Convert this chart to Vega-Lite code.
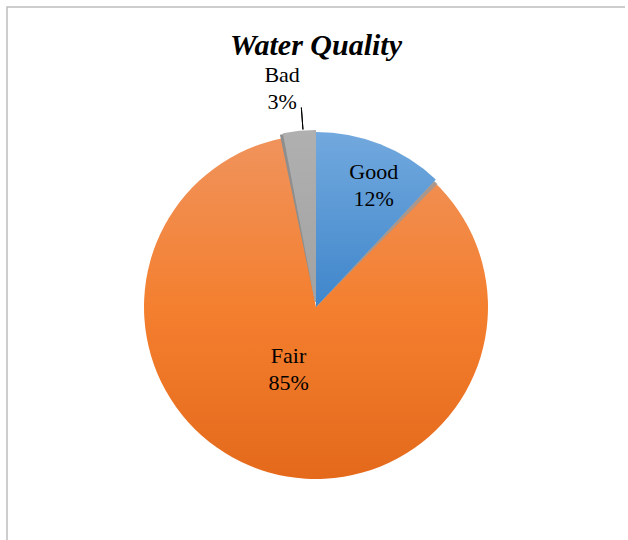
{
  "$schema": "https://vega.github.io/schema/vega-lite/v6.json",
  "autosize": "none",
  "width": 618,
  "height": 600,
  "padding": {"left": 7, "top": 7, "right": 0, "bottom": 0},
  "background": "white",
  "config": {
    "font": "Liberation Serif"
  },
  "view": {"stroke": "#bdbdbd", "strokeWidth": 1.5, "strokeDash": [618, 1218, 602]},
  "title": {
    "text": "Water Quality",
    "font": "Liberation Serif",
    "fontSize": 30,
    "fontWeight": "bold",
    "fontStyle": "italic",
    "color": "black",
    "anchor": "middle",
    "offset": -54
  },
  "data": {
    "values": [
      {"cat": "Good", "value": 12},
      {"cat": "Fair", "value": 85},
      {"cat": "Bad", "value": 3}
    ]
  },
  "transform": [
    {"stack": "value", "groupby": [], "sort": [{"field": "cat", "order": "descending"}], "as": ["v0", "v1"]},
    {"calculate": "datum.cat + '\\n' + datum.value + '%'", "as": "label"}
  ],
  "layer": [
    {
      "transform": [{"filter": "datum.cat === 'Fair'"}],
      "mark": {
        "type": "arc", "radius": 172,
        "fill": {"gradient": "linear", "x1": 0, "y1": 0, "x2": 0, "y2": 1,
          "stops": [{"offset": 0, "color": "#f0935c"}, {"offset": 0.5, "color": "#f47f2f"}, {"offset": 1, "color": "#e4691b"}]}
      },
      "encoding": {
        "theta": {"field": "v0", "type": "quantitative", "scale": {"domain": [0, 100]}},
        "theta2": {"field": "v1"}
      }
    },
    {
      "transform": [{"filter": "datum.cat === 'Good'"}],
      "mark": {"type": "arc", "radius": 173, "thetaOffset": 0.02, "theta2Offset": 0.025, "fill": "#9a9a9a", "opacity": 0.8},
      "encoding": {
        "theta": {"field": "v0", "type": "quantitative"},
        "theta2": {"field": "v1"}
      }
    },
    {
      "transform": [{"filter": "datum.cat === 'Good'"}],
      "mark": {
        "type": "arc", "radius": 175,
        "fill": {"gradient": "linear", "x1": 0, "y1": 0, "x2": 0, "y2": 1,
          "stops": [{"offset": 0, "color": "#72a9de"}, {"offset": 1, "color": "#3f86cb"}]}
      },
      "encoding": {
        "theta": {"field": "v0", "type": "quantitative"},
        "theta2": {"field": "v1"}
      }
    },
    {
      "transform": [{"filter": "datum.cat === 'Bad'"}],
      "mark": {"type": "arc", "radius": 176, "radius2": 5, "thetaOffset": -0.018, "theta2Offset": -0.012, "fill": "#8e8e8e"},
      "encoding": {
        "theta": {"field": "v0", "type": "quantitative"},
        "theta2": {"field": "v1"}
      }
    },
    {
      "transform": [{"filter": "datum.cat === 'Bad'"}],
      "mark": {
        "type": "arc", "radius": 177, "radius2": 5,
        "fill": {"gradient": "linear", "x1": 0, "y1": 0, "x2": 0, "y2": 1,
          "stops": [{"offset": 0, "color": "#b0b0b0"}, {"offset": 1, "color": "#a2a2a2"}]}
      },
      "encoding": {
        "theta": {"field": "v0", "type": "quantitative"},
        "theta2": {"field": "v1"}
      }
    },
    {
      "transform": [{"filter": "datum.cat === 'Bad'"}],
      "mark": {"type": "arc", "radius": 200, "radius2": 178, "thetaOffset": 0.1152, "theta2Offset": -0.0733, "fill": null, "stroke": "black", "strokeWidth": 1},
      "encoding": {
        "theta": {"field": "v0", "type": "quantitative"},
        "theta2": {"field": "v1"}
      }
    },
    {
      "mark": {"type": "text", "radius": 135, "dx": 8, "dy": -9, "fontSize": 22, "lineHeight": 27, "lineBreak": "\n", "font": "Liberation Serif", "color": "black"},
      "encoding": {
        "theta": {"field": "value", "type": "quantitative", "stack": true},
        "order": {"field": "v0", "type": "quantitative"},
        "text": {"condition": {"test": "datum.cat === 'Good'", "field": "label"}, "value": ""}
      }
    },
    {
      "mark": {"type": "text", "radius": 66, "dx": -9, "dy": -14, "fontSize": 22, "lineHeight": 27, "lineBreak": "\n", "font": "Liberation Serif", "color": "black"},
      "encoding": {
        "theta": {"field": "value", "type": "quantitative", "stack": true},
        "order": {"field": "v0", "type": "quantitative"},
        "text": {"condition": {"test": "datum.cat === 'Fair'", "field": "label"}, "value": ""}
      }
    },
    {
      "mark": {"type": "text", "radius": 222, "dx": -13, "dy": -11, "fontSize": 22, "lineHeight": 27, "lineBreak": "\n", "font": "Liberation Serif", "color": "black"},
      "encoding": {
        "theta": {"field": "value", "type": "quantitative", "stack": true},
        "order": {"field": "v0", "type": "quantitative"},
        "text": {"condition": {"test": "datum.cat === 'Bad'", "field": "label"}, "value": ""}
      }
    }
  ]
}
